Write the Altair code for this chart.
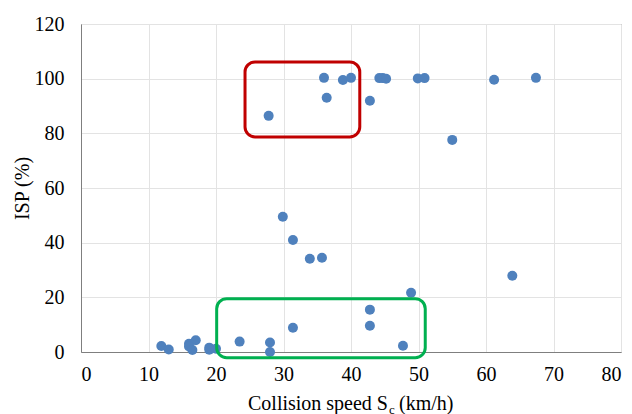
import altair as alt
import pandas as pd

# Collision speed (km/h) and ISP (%)
speed = [27.8, 36.0, 36.4, 38.8, 40.0, 42.8, 44.2, 44.7, 45.2, 49.9, 50.9, 61.2, 67.4,
         55.0, 63.9,
         29.9, 31.4, 33.9, 35.7, 48.9,
         42.8, 42.8, 47.7, 31.4, 28.0, 28.0, 23.5, 20.0, 19.0, 19.0, 17.0,
         16.0, 16.0, 16.5, 11.9, 13.0]
isp = [86.4, 100.3, 93.0, 99.5, 100.3, 91.9, 100.2, 100.2, 100.0, 100.1, 100.2, 99.6, 100.3,
       77.6, 27.9,
       49.5, 41.0, 34.1, 34.5, 21.7,
       15.5, 9.6, 2.3, 8.9, 3.5, 0.0, 3.8, 1.2, 1.6, 0.8, 4.3,
       3.0, 2.0, 0.7, 2.2, 0.9]

# Highlight boxes (data coordinates)
box_x1 = [24.3, 20.1]
box_x2 = [41.3, 51.0]
box_y1 = [78.7, -2.1]
box_y2 = [106.1, 19.5]
box_color = ["#C00000", "#00B050"]

# X-axis title pieces (main text, subscript, unit)
title_main = ["Collision speed S"]
title_sub = ["c"]
title_unit = ["(km/h)"]

df = pd.DataFrame({"speed": speed, "isp": isp})
boxes = pd.DataFrame({"x1": box_x1, "x2": box_x2, "y1": box_y1, "y2": box_y2, "c": box_color})

font = "Liberation Serif, Times New Roman, serif"

xscale = alt.Scale(domain=[0, 80], nice=False)
yscale = alt.Scale(domain=[0, 120], nice=False)

points = alt.Chart(df).mark_circle(size=100, opacity=1, color="#4F81BD").encode(
    x=alt.X("speed:Q", scale=xscale,
            axis=alt.Axis(values=list(range(0, 81, 10)), title=None,
                          labelFont=font, labelFontSize=20, labelColor="black",
                          labelPadding=12, ticks=False,
                          gridColor="#E3E3E3", domainColor="#7F7F7F")),
    y=alt.Y("isp:Q", scale=yscale,
            axis=alt.Axis(values=list(range(0, 121, 20)), title="ISP (%)",
                          titleFont=font, titleFontSize=20, titleFontWeight="normal",
                          titleColor="black", titlePadding=2,
                          labelFont=font, labelFontSize=20, labelColor="black",
                          labelPadding=17, ticks=False,
                          gridColor="#E3E3E3", domainColor="#7F7F7F")),
)

rects = alt.Chart(boxes).mark_rect(fillOpacity=0, strokeWidth=3, cornerRadius=10).encode(
    x="x1:Q", x2="x2:Q", y="y1:Q", y2="y2:Q",
    stroke=alt.Stroke("c:N", scale=None),
)

t_main = alt.Chart(pd.DataFrame({"t": title_main})).mark_text(
    font=font, fontSize=20, align="right", baseline="alphabetic", color="black"
).encode(text="t:N", x=alt.value(307), y=alt.value(386))

t_sub = alt.Chart(pd.DataFrame({"t": title_sub})).mark_text(
    font=font, fontSize=13, align="left", baseline="alphabetic", color="black"
).encode(text="t:N", x=alt.value(308), y=alt.value(390))

t_unit = alt.Chart(pd.DataFrame({"t": title_unit})).mark_text(
    font=font, fontSize=20, align="left", baseline="alphabetic", color="black"
).encode(text="t:N", x=alt.value(318), y=alt.value(386))

chart = alt.layer(points, rects, t_main, t_sub, t_unit).properties(
    width=540, height=328,
    autosize=alt.AutoSizeParams(type="none"),
    padding={"left": 73, "top": 16, "right": 3, "bottom": 62},
).configure_view(stroke="#7F7F7F", strokeWidth=1)

chart.save("out.html", embed_options={"renderer": "svg", "actions": False})
